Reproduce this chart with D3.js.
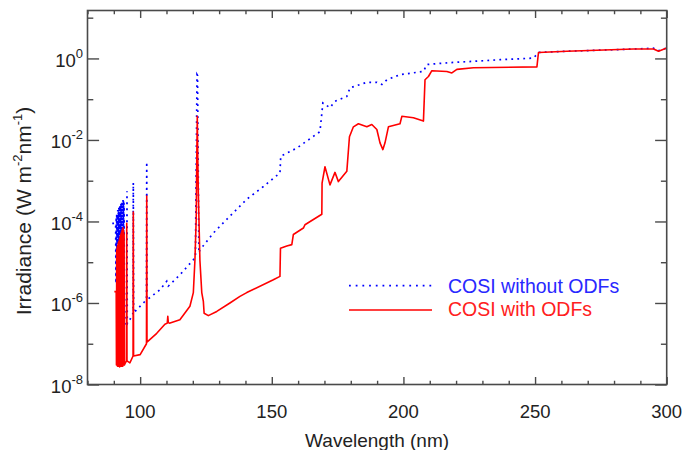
<!DOCTYPE html>
<html>
<head>
<meta charset="utf-8">
<script src="https://cdn.jsdelivr.net/npm/d3@7"></script>
<style>
  body { margin: 0; background: #fff; }
  text { font-family: "Liberation Sans", Arial, Helvetica, sans-serif; fill: #222; }
</style>
</head>
<body>
<svg width="685" height="450"></svg>
<script>
// wavelength (nm) and irradiance (W m-2 nm-1)
var wlNoOdf = [89.4, 90.7, 90.8, 90.9, 91.0, 91.1, 91.2, 91.3, 91.4, 91.5, 91.6, 91.7, 91.8, 91.9, 92.0, 92.1,
  92.2, 92.3, 92.4, 92.5, 92.6, 92.7, 92.8, 92.9, 93.0, 93.1, 93.2, 93.3, 93.4, 93.5, 93.6, 93.7, 93.8, 93.9,
  94.0, 94.2, 94.9, 95.0, 95.1, 96.1, 97.3, 97.4, 97.5, 102.4, 102.5, 102.6, 107.5, 110.1, 110.7, 115.1,
  120.2, 121.0, 121.6, 121.8, 122.3, 122.7, 127.8, 134.1, 140.5, 146.8, 153.1, 153.4, 159.5, 168.3, 169.4,
  172.1, 174.0, 178.5, 179.7, 186.1, 189.9, 191.8, 193.7, 198.7, 207.6, 208.9, 217.7, 226.6, 236.7, 249.4,
  251.3, 262.1, 287.4, 295.0, 296.9, 300.0];
var irrNoOdf = [9e-5, 9e-5, 3e-6, 1.3e-4, 3e-6, 1.6e-4, 3e-6, 1.4e-4, 3e-6, 1.9e-4, 3e-6, 1.7e-4, 3e-6, 2.2e-4, 3e-6, 2.0e-4,
  3e-6, 2.6e-4, 3e-6, 2.3e-4, 3e-6, 2.9e-4, 3e-6, 2.7e-4, 3e-6, 3.2e-4, 3e-6, 2.9e-4, 3e-6, 3.4e-4, 3e-6, 3.1e-4, 3e-6, 2.8e-4,
  3e-6, 2.7e-7, 3.0e-7, 5.5e-4, 3.1e-7, 3.9e-7, 5.6e-7, 8.9e-4, 5.7e-7, 1.2e-6, 2.9e-3, 1.2e-6, 2.1e-6, 3.4e-6, 2.6e-6, 4.9e-6,
  1.15e-5, 1.4e-5, 0.40, 0.38, 1.7e-5, 2.0e-5, 5.2e-5, 1.35e-4, 3.5e-4, 7.2e-4, 1.55e-3, 4.0e-3, 6.3e-3, 1.6e-2, 8.1e-2,
  6.2e-2, 8.9e-2, 0.117, 0.19, 0.26, 0.26, 0.23, 0.30, 0.40, 0.48, 0.71, 0.79, 0.85, 0.93, 1.02,
  1.4, 1.5, 1.7, 1.78, 1.55, 1.8];

var wlOdf = [90.2, 90.9, 91.0, 91.1, 91.2, 91.3, 91.4, 91.5, 91.6, 91.7, 91.8, 91.9, 92.0, 92.1, 92.2, 92.3,
  92.4, 92.5, 92.6, 92.7, 92.8, 92.9, 93.0, 93.1, 93.2, 93.3, 93.4, 93.5, 93.6, 93.7, 93.8, 93.9, 94.0, 94.2,
  94.8, 94.9, 95.0, 96.1, 97.3, 97.4, 97.5, 100.0, 102.4, 102.5, 102.6, 106.3, 109.4, 110.3, 110.5, 110.7,
  111.1, 115.1, 118.9, 120.2, 120.8, 121.3, 121.5, 121.7, 121.9, 122.1, 122.7, 123.4, 124.0, 124.3, 125.9,
  129.1, 134.1, 137.9, 140.5, 150.6, 153.1, 153.3, 155.7, 157.6, 158.2, 162.0, 162.6, 169.0, 169.1, 170.2,
  172.1, 174.0, 175.3, 178.5, 179.5, 181.0, 182.9, 186.1, 188.0, 189.9, 191.1, 192.2, 193.0, 194.3, 198.7,
  199.4, 203.8, 207.6, 208.2, 209.5, 210.8, 216.5, 218.4, 220.3, 226.6, 250.7, 251.3, 262.1, 287.4, 295.0,
  296.9, 300.0];
var irrOdf = [1.9e-6, 1.9e-6, 3e-8, 2.0e-5, 3e-8, 2.4e-5, 2.8e-8, 2.6e-5, 3e-8, 3.0e-5, 2.8e-8, 3.2e-5, 3e-8, 3.6e-5, 2.7e-8, 4.0e-5,
  3e-8, 4.5e-5, 2.8e-8, 5e-5, 3e-8, 5.5e-5, 2.8e-8, 6e-5, 3e-8, 6.5e-5, 2.8e-8, 7e-5, 3e-8, 6e-5, 3e-8, 5e-5, 3e-8, 3.2e-8,
  3.8e-8, 9e-5, 3.8e-8, 3.4e-8, 5e-8, 1.7e-4, 5e-8, 5.4e-8, 1.0e-7, 4.2e-4, 1.1e-7, 1.8e-7, 3.0e-7, 3.2e-7, 4.7e-7, 3.3e-7,
  3.2e-7, 3.9e-7, 8.3e-7, 1.8e-6, 1.1e-5, 1.2e-4, 3.2e-3, 3.8e-2, 3e-3, 5e-4, 1.1e-5, 1.8e-6, 1.1e-6, 5.6e-7, 4.9e-7,
  6.2e-7, 1.0e-6, 1.45e-6, 1.8e-6, 3.7e-6, 4.5e-6, 2.2e-5, 2.5e-5, 2.7e-5, 4.8e-5, 6.9e-5, 8.3e-5, 1.5e-4, 8.7e-4, 2.2e-3,
  7.9e-4, 1.6e-3, 9.5e-4, 1.7e-3, 1.2e-2, 2.1e-2, 2.5e-2, 2.1e-2, 2.4e-2, 1.8e-2, 8.5e-3, 5.8e-3, 8.5e-3, 2.1e-2, 2.5e-2,
  3.8e-2, 3.5e-2, 2.9e-2, 0.30, 0.36, 0.50, 0.48, 0.44, 0.54, 0.59, 0.62, 1.4, 1.5, 1.7, 1.7,
  1.5, 1.8];

var xMajor = [100, 150, 200, 250, 300];
var xMinor = [80, 90, 110, 120, 130, 140, 160, 170, 180, 190, 210, 220, 230, 240, 260, 270, 280, 290];
var yMajorExp = [0, -2, -4, -6, -8];
var yMinorExp = [1, -1, -3, -5, -7];
var legendNames = ["COSI without ODFs", "COSI with ODFs"];

var svg = d3.select("svg"),
    pLeft = 87.5, pRight = 666.7, pTop = 10.5, pBottom = 384.5,
    axisColor = "#4a4a4a";

var x = d3.scaleLinear().domain([80, 300]).range([pLeft, pRight]);
var y = d3.scaleLog().domain([1e-8, 15]).range([pBottom, pTop]);

svg.append("clipPath").attr("id", "plotclip")
  .append("rect").attr("x", pLeft).attr("y", pTop).attr("width", pRight - pLeft).attr("height", pBottom - pTop);

var line = d3.line()
  .x(function(d) { return x(d[0]); })
  .y(function(d) { return y(d[1]); });

var blueData = wlNoOdf.map(function(w, i) { return [w, irrNoOdf[i]]; });
var redData = wlOdf.map(function(w, i) { return [w, irrOdf[i]]; });

var plot = svg.append("g").attr("clip-path", "url(#plotclip)");
plot.append("path")
  .datum(blueData)
  .attr("d", line)
  .attr("fill", "none")
  .attr("stroke", "#0000ff")
  .attr("stroke-width", 1.7)
  .attr("stroke-dasharray", "1.8,4.2");
plot.append("path")
  .datum(redData)
  .attr("d", line)
  .attr("fill", "none")
  .attr("stroke", "#ff0000")
  .attr("stroke-width", 1.6)
  .attr("stroke-linejoin", "round");

// axes: ticks point inward on all four sides
var majLenX = 7.5, minLenX = 3.75, majLenY = 11.6, minLenY = 5.8;
function styleAxis(g) {
  g.select(".domain").remove();
  g.selectAll("line").attr("stroke", axisColor).attr("stroke-width", 1.4);
}
svg.append("g").attr("transform", "translate(0," + pBottom + ")")
  .call(d3.axisBottom(x).tickValues(xMajor).tickSize(-majLenX).tickFormat("")).call(styleAxis);
svg.append("g").attr("transform", "translate(0," + pBottom + ")")
  .call(d3.axisBottom(x).tickValues(xMinor).tickSize(-minLenX).tickFormat("")).call(styleAxis);
svg.append("g").attr("transform", "translate(0," + pTop + ")")
  .call(d3.axisTop(x).tickValues(xMajor).tickSize(-majLenX).tickFormat("")).call(styleAxis);
svg.append("g").attr("transform", "translate(0," + pTop + ")")
  .call(d3.axisTop(x).tickValues(xMinor).tickSize(-minLenX).tickFormat("")).call(styleAxis);

var yMajor = yMajorExp.map(function(e) { return Math.pow(10, e); });
var yMinor = yMinorExp.map(function(e) { return Math.pow(10, e); });
svg.append("g").attr("transform", "translate(" + pLeft + ",0)")
  .call(d3.axisLeft(y).tickValues(yMajor).tickSize(-majLenY).tickFormat("")).call(styleAxis);
svg.append("g").attr("transform", "translate(" + pLeft + ",0)")
  .call(d3.axisLeft(y).tickValues(yMinor).tickSize(-minLenY).tickFormat("")).call(styleAxis);
svg.append("g").attr("transform", "translate(" + pRight + ",0)")
  .call(d3.axisRight(y).tickValues(yMajor).tickSize(-majLenY).tickFormat("")).call(styleAxis);
svg.append("g").attr("transform", "translate(" + pRight + ",0)")
  .call(d3.axisRight(y).tickValues(yMinor).tickSize(-minLenY).tickFormat("")).call(styleAxis);

svg.append("rect")
  .attr("x", pLeft).attr("y", pTop).attr("width", pRight - pLeft).attr("height", pBottom - pTop)
  .attr("fill", "none").attr("stroke", axisColor).attr("stroke-width", 1.6);

// tick labels
svg.append("g").selectAll("text").data(xMajor).enter().append("text")
  .attr("x", function(d) { return x(d); })
  .attr("y", 418)
  .attr("text-anchor", "middle")
  .attr("font-size", 18.5)
  .text(function(d) { return d; });

var yl = svg.append("g").selectAll("text").data(yMajorExp).enter().append("text")
  .attr("x", 83)
  .attr("y", function(d) { return y(Math.pow(10, d)) + 8.5; })
  .attr("text-anchor", "end")
  .attr("font-size", 18.5);
yl.append("tspan").text("10");
yl.append("tspan").attr("dy", -9).attr("font-size", 13).text(function(d) { return d; });

// axis titles
svg.append("text")
  .attr("x", (pLeft + pRight) / 2)
  .attr("y", 447)
  .attr("text-anchor", "middle")
  .attr("font-size", 19)
  .text("Wavelength (nm)");

var yt = svg.append("text")
  .attr("transform", "translate(31,211) rotate(-90)")
  .attr("text-anchor", "middle")
  .attr("font-size", 21);
yt.append("tspan").text("Irradiance (W m");
yt.append("tspan").attr("dy", -9).attr("font-size", 13).text("-2");
yt.append("tspan").attr("dy", 9).text("nm");
yt.append("tspan").attr("dy", -9).attr("font-size", 13).text("-1");
yt.append("tspan").attr("dy", 9).text(")");

// legend
var legend = svg.append("g");
legend.append("line")
  .attr("x1", 349).attr("x2", 432).attr("y1", 285.7).attr("y2", 285.7)
  .attr("stroke", "#0000ff").attr("stroke-width", 1.7).attr("stroke-dasharray", "1.8,4.9");
legend.append("text")
  .attr("x", 448).attr("y", 293)
  .attr("font-size", 19.5)
  .style("fill", "#2828ff")
  .text(legendNames[0]);
legend.append("line")
  .attr("x1", 349).attr("x2", 432).attr("y1", 310).attr("y2", 310)
  .attr("stroke", "#ff0000").attr("stroke-width", 1.6);
legend.append("text")
  .attr("x", 448).attr("y", 316)
  .attr("font-size", 19.5)
  .style("fill", "#ff2020")
  .text(legendNames[1]);
</script>
</body>
</html>
